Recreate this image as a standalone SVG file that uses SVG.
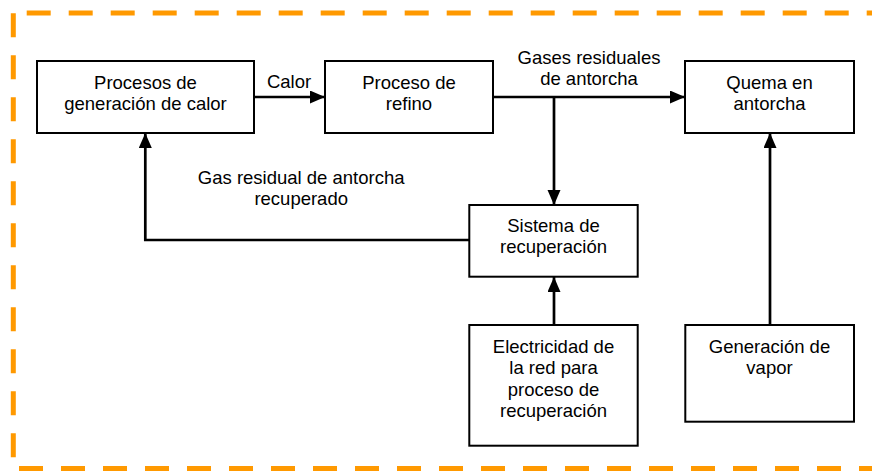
<svg xmlns="http://www.w3.org/2000/svg" width="872" height="471" viewBox="0 0 872 471">
  <defs>
    <style>
      .box { fill: #ffffff; stroke: #000000; stroke-width: 2; }
      .lbl { font-family: "Liberation Sans", Arial, sans-serif; font-size: 18.5px; fill: #000000; text-anchor: middle; }
      .conn { fill: none; stroke: #000000; stroke-width: 2.7; }
      .border { fill: none; stroke: #FF9900; stroke-width: 5; stroke-dasharray: 24 18; }
    </style>
    <marker id="arrow" markerUnits="userSpaceOnUse" markerWidth="16" markerHeight="14" refX="15" refY="6.5" orient="auto">
      <path d="M0,0 L15,6.5 L0,13 z" fill="#000000"/>
    </marker>
  </defs>

  <g id="border">
    <line class="border" x1="26.7" y1="13" x2="872" y2="13"/>
    <line class="border" x1="13.3" y1="13.3" x2="13.3" y2="471"/>
    <line class="border" x1="19" y1="468.5" x2="872" y2="468.5"/>
  </g>

  <g id="connectors">
    <line class="conn" x1="254" y1="97" x2="325" y2="97" marker-end="url(#arrow)"/>
    <line class="conn" x1="493" y1="97" x2="685" y2="97" marker-end="url(#arrow)"/>
    <line class="conn" x1="554" y1="97" x2="554" y2="205" marker-end="url(#arrow)"/>
    <line class="conn" x1="554" y1="325" x2="554" y2="277" marker-end="url(#arrow)"/>
    <line class="conn" x1="770" y1="325" x2="770" y2="133" marker-end="url(#arrow)"/>
    <polyline class="conn" points="469,240 145.3,240 145.3,133" marker-end="url(#arrow)"/>
    <text class="lbl" x="289" y="88.3">Calor</text>
    <text class="lbl" x="589" y="64.3">Gases residuales</text>
    <text class="lbl" x="589" y="85">de antorcha</text>
    <text class="lbl" x="301.2" y="184">Gas residual de antorcha</text>
    <text class="lbl" x="301.2" y="205">recuperado</text>
  </g>

  <g id="n-generacion-calor">
    <rect class="box" x="37" y="61" width="217" height="72"/>
    <text class="lbl" x="145.5" y="89.3">Procesos de</text>
    <text class="lbl" x="145.5" y="110">generación de calor</text>
  </g>

  <g id="n-refino">
    <rect class="box" x="325" y="61" width="168" height="72"/>
    <text class="lbl" x="409" y="89.3">Proceso de</text>
    <text class="lbl" x="409" y="110">refino</text>
  </g>

  <g id="n-quema">
    <rect class="box" x="685" y="61" width="169" height="72"/>
    <text class="lbl" x="769.5" y="89.3">Quema en</text>
    <text class="lbl" x="769.5" y="110">antorcha</text>
  </g>

  <g id="n-recuperacion">
    <rect class="box" x="469.3" y="205" width="168.4" height="71.7"/>
    <text class="lbl" x="553.5" y="232.3">Sistema de</text>
    <text class="lbl" x="553.5" y="252.7">recuperación</text>
  </g>

  <g id="n-electricidad">
    <rect class="box" x="469.3" y="325" width="168.4" height="120.7"/>
    <text class="lbl" x="553.5" y="352.7">Electricidad de</text>
    <text class="lbl" x="553.5" y="374.2">la red para</text>
    <text class="lbl" x="553.5" y="395.6">proceso de</text>
    <text class="lbl" x="553.5" y="416.8">recuperación</text>
  </g>

  <g id="n-vapor">
    <rect class="box" x="685.3" y="325" width="168.7" height="96.7"/>
    <text class="lbl" x="769.5" y="352.7">Generación de</text>
    <text class="lbl" x="769.5" y="374.2">vapor</text>
  </g>
</svg>
